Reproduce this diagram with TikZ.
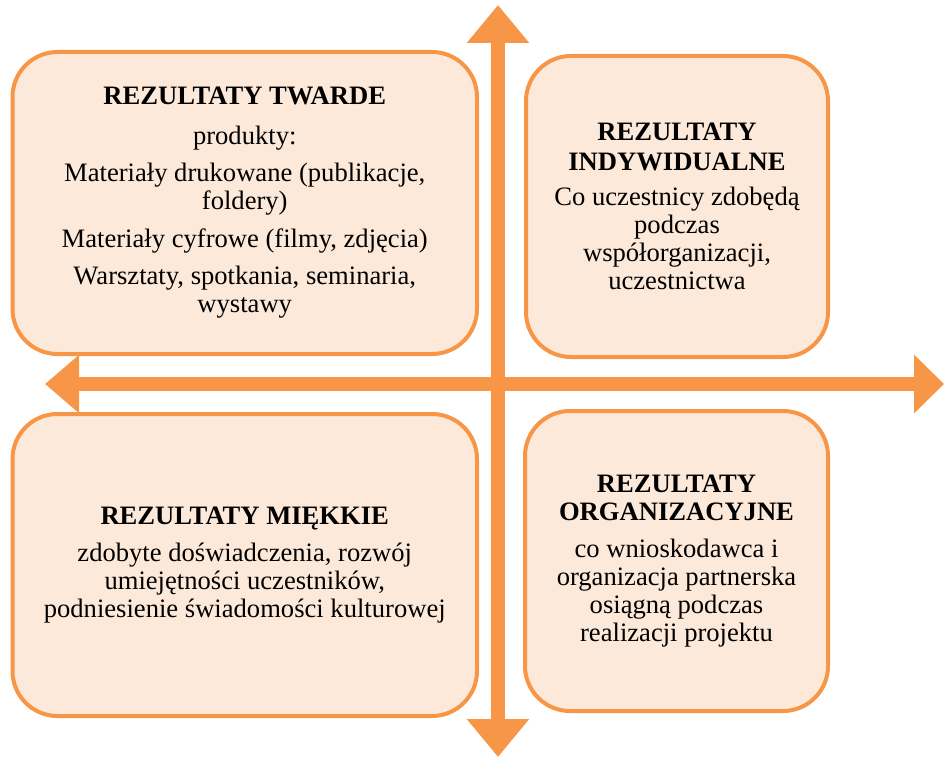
\documentclass[tikz,border=0pt]{standalone}
\usepackage{fontspec}
\setmainfont{Liberation Serif}
\usetikzlibrary{arrows.meta,positioning}
\definecolor{resorange}{HTML}{F79646}
\definecolor{respeach}{HTML}{FDE9D9}

\begin{document}
\begin{tikzpicture}[
    x=0.5pt, y=-0.5pt,
    every node/.style={font=\fontsize{13.3}{14}\selectfont},
    result/.style={draw=resorange, line width=2pt, fill=respeach,
        rounded corners=22.5pt, align=center, inner sep=0pt},
    bigarrow/.style={draw=resorange, line width=7pt}
]
\useasboundingbox (0,0) rectangle (946,759);

% Arrow ends
\coordinate (vtop) at (498,5);
\coordinate (vbot) at (498,757);
\coordinate (hleft) at (45,384);
\coordinate (hright) at (944,384);

% Axes (block arrows)
\draw[bigarrow, {Triangle[length=19pt, width=30pt]}-{Triangle[length=19pt, width=30pt]}] (vtop) -- (vbot);
\draw[bigarrow, {Triangle[length=17pt, width=28pt]}-{Triangle[length=15pt, width=28.5pt]}] (hleft) -- (hright);

% Hard results (top left)
\node[result, minimum width=232.25pt, minimum height=151pt] (twarde) at (244.75,203) {
    \textbf{REZULTATY TWARDE}\\[6pt]
    produkty:\\[4.5pt]
    Materiały drukowane (publikacje,\\
    foldery)\\[5pt]
    Materiały cyfrowe (filmy, zdjęcia)\\[4.5pt]
    Warsztaty, spotkania, seminaria,\\
    wystawy
};

% Individual results (top right)
\node[result, minimum width=151pt, minimum height=150.5pt] (indywidualne) at (677,206.5) {
    \textbf{REZULTATY}\\[1pt]
    \textbf{INDYWIDUALNE}\\[3.5pt]
    Co uczestnicy zdobędą\\
    podczas\\
    współorganizacji,\\
    uczestnictwa
};

% Soft results (bottom left)
\node[result, minimum width=232.25pt, minimum height=151pt] (miekkie) at (244.75,565) {
    \textbf{REZULTATY MIĘKKIE}\\[4.5pt]
    zdobyte doświadczenia, rozwój\\
    umiejętności uczestników,\\
    podniesienie świadomości kulturowej
};

% Organisational results (bottom right)
\node[result, minimum width=151.5pt, minimum height=150pt] (organizacyjne) at (676.5,561) {
    \textbf{REZULTATY}\\
    \textbf{ORGANIZACYJNE}\\[4.5pt]
    co wnioskodawca i\\
    organizacja partnerska\\
    osiągną podczas\\
    realizacji projektu
};

\end{tikzpicture}
\end{document}
